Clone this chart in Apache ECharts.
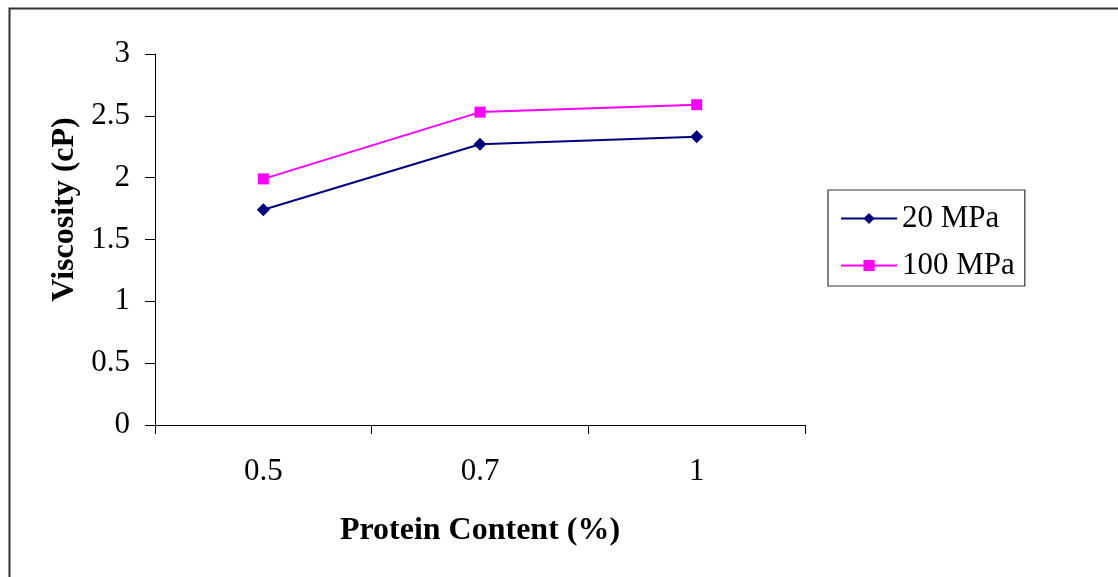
<!DOCTYPE html>
<html><head><meta charset="utf-8">
<script src="https://cdn.jsdelivr.net/npm/echarts@6/dist/echarts.min.js"></script>
<style>html,body{margin:0;padding:0;background:#fff}#c{width:1118px;height:577px}</style>
</head><body><div id="c"></div>
<script>
const categories = ['0.5', '0.7', '1'];
const series20 = [1.74, 2.27, 2.33];
const series100 = [1.99, 2.53, 2.59];
const seriesNames = ['20 MPa', '100 MPa'];
const yTicks = [0, 0.5, 1, 1.5, 2, 2.5, 3];

const font = '"Liberation Serif", "Times New Roman", serif';
const chart = echarts.init(document.getElementById('c'));
chart.setOption({
  animation: false,
  backgroundColor: '#fff',
  graphic: [{
    type: 'rect', left: 7, top: 6, shape: {width: 1120, height: 580},
    style: {fill: 'none', stroke: '#333', lineWidth: 2}, silent: true
  }],
  grid: {left: 155, right: 313, top: 54, bottom: 152},
  legend: {
    data: seriesNames,
    orient: 'vertical',
    left: 828, top: 190,
    padding: [13, 10, 5, 12],
    itemWidth: 56, itemHeight: 14, itemGap: 16,
    borderColor: '#333', borderWidth: 1.2,
    textStyle: {fontFamily: font, fontSize: 31, color: '#000'}
  },
  xAxis: {
    type: 'category',
    data: categories,
    boundaryGap: true,
    name: 'Protein Content (%)',
    nameLocation: 'middle',
    nameGap: 90,
    nameTextStyle: {fontFamily: font, fontSize: 32, fontWeight: 'bold', color: '#000'},
    axisLine: {lineStyle: {color: '#000', width: 1}},
    axisTick: {show: true, length: 9, alignWithLabel: false, lineStyle: {color: '#000'}},
    axisLabel: {fontFamily: font, fontSize: 31, color: '#000', margin: 31}
  },
  yAxis: {
    type: 'value',
    min: 0, max: 3, interval: 0.5,
    name: 'Viscosity (cP)',
    nameLocation: 'middle',
    nameGap: 71,
    nameTextStyle: {fontFamily: font, fontSize: 32, fontWeight: 'bold', color: '#000', padding: [0, 0, 0, 60]},
    axisLine: {show: true, lineStyle: {color: '#000', width: 1}},
    axisTick: {show: true, length: 10, lineStyle: {color: '#000'}},
    splitLine: {show: false},
    axisLabel: {fontFamily: font, fontSize: 31, color: '#000', margin: 25,
      formatter: v => yTicks.includes(v) ? String(v) : ''}
  },
  series: [
    {name: seriesNames[0], type: 'line', data: series20, symbol: 'diamond', symbolSize: 13,
     lineStyle: {color: '#000080', width: 2}, itemStyle: {color: '#000080'}},
    {name: seriesNames[1], type: 'line', data: series100, symbol: 'rect', symbolSize: 11,
     lineStyle: {color: '#FF00FF', width: 2}, itemStyle: {color: '#FF00FF'}}
  ]
});
</script></body></html>
